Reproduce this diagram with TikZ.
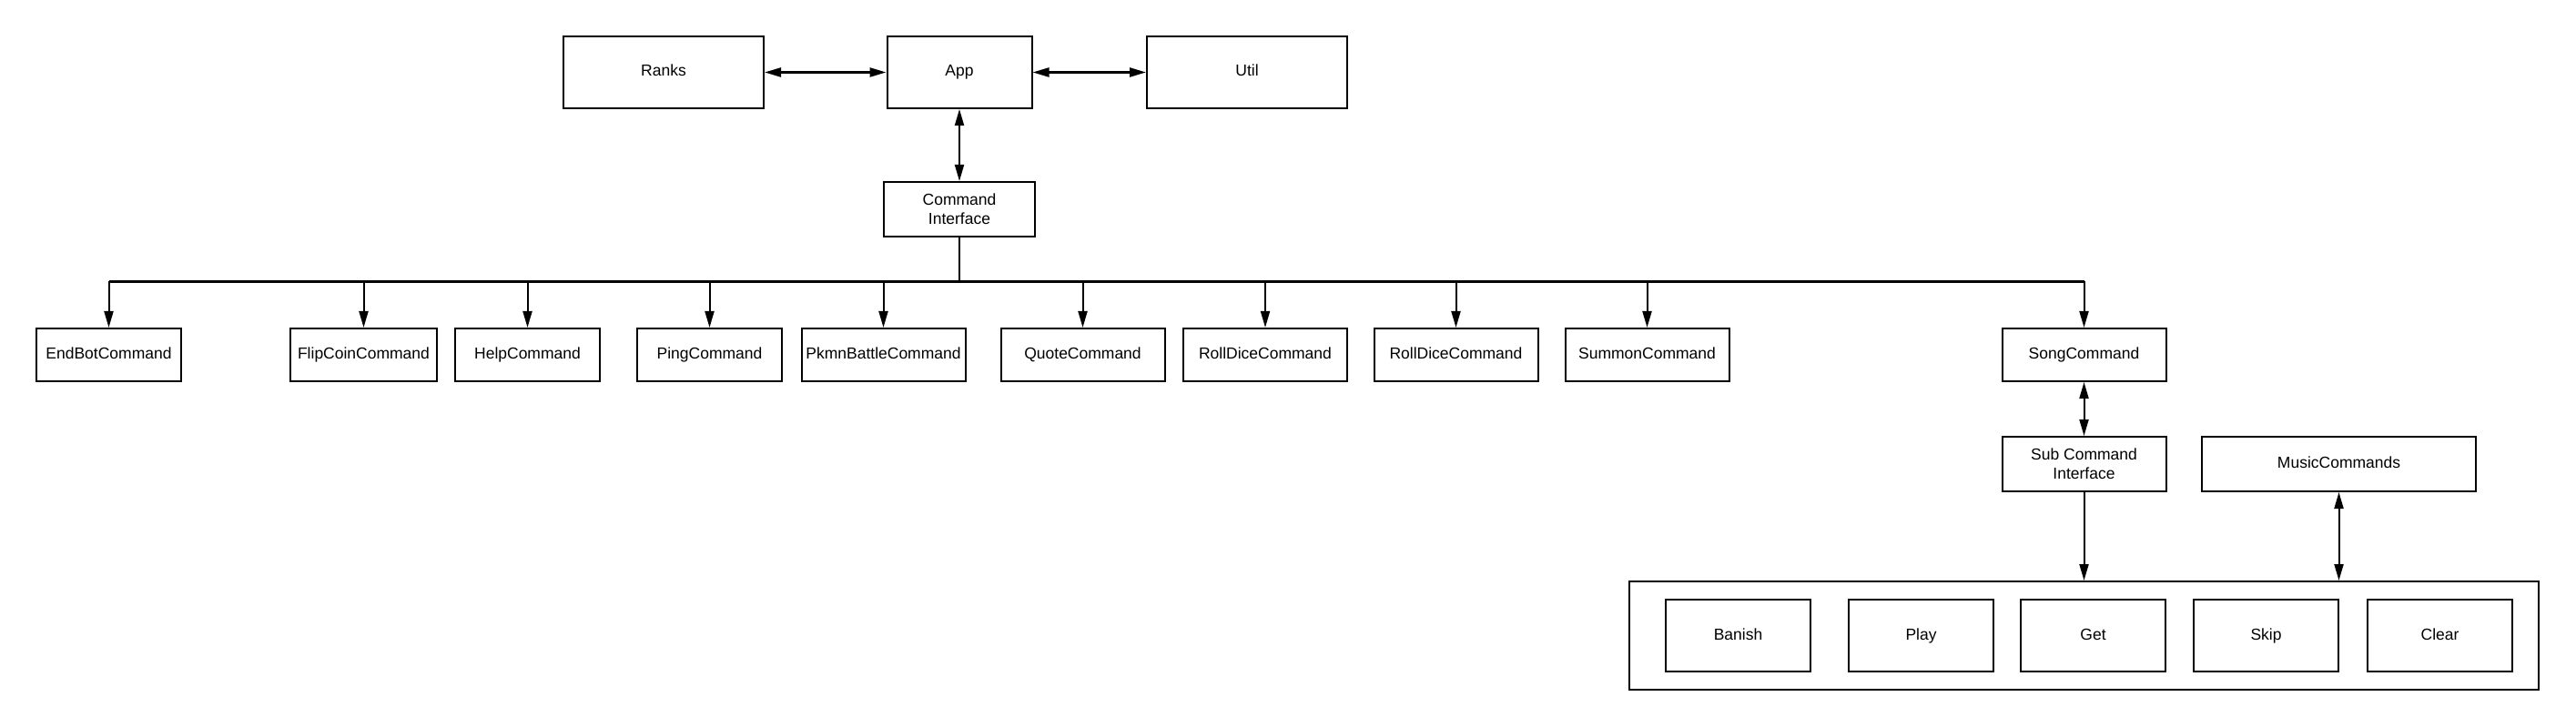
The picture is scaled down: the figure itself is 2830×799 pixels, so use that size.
\documentclass[tikz,border=0pt]{standalone}
\usepackage{fontspec}
\setmainfont{Liberation Sans}
\usetikzlibrary{arrows.meta}

\tikzset{
  box/.style={draw, line width=2pt, inner sep=2pt, align=center,
    font=\fontsize{17.5}{21}\selectfont, text height=12.5pt, text depth=3.5pt,
    minimum width=159pt, minimum height=58pt},
  widebox/.style={box, minimum width=180pt},
  link/.style={line width=2pt},
  biglink/.style={line width=2.5pt}
}

\begin{document}
\begin{tikzpicture}[x=1pt, y=-1pt, >={Triangle[length=18pt,width=10pt]}]
    \useasboundingbox (0,0) rectangle (2830,799); % page
    % top row
    \node[box, minimum width=220pt, minimum height=79pt] (ranks) at (729,79.5) {Ranks};
    \node[box, minimum height=79pt] (app) at (1054,79.5) {App};
    \node[box, minimum width=220pt, minimum height=79pt] (util) at (1370,79.5) {Util};
    \node[box, minimum width=166pt, minimum height=60pt, text height=, text depth=] (cmdif) at (1054,230) {Command\\Interface};
    \draw[biglink, <->] (ranks) -- (app);
    \draw[biglink, <->] (app) -- (util);
    \draw[link, <->] (app) -- (cmdif);
    % commands
    \node[box] (endbot) at (119.5,390) {EndBotCommand};
    \node[box, minimum width=161pt] (flipcoin) at (399.5,390) {FlipCoinCommand};
    \node[box] (help) at (579.5,390) {HelpCommand};
    \node[box] (ping) at (779.5,390) {PingCommand};
    \node[widebox] (pkmn) at (970.5,390) {PkmnBattleCommand};
    \node[widebox] (quote) at (1189.5,390) {QuoteCommand};
    \node[widebox] (rolldice) at (1390,390) {RollDiceCommand};
    \node[widebox] (rolldiceb) at (1599.5,390) {RollDiceCommand};
    \node[widebox] (summon) at (1809.5,390) {SummonCommand};
    \node[widebox] (song) at (2289.5,390) {SongCommand};
    \coordinate (bus) at (1054,309.5);
    \draw[link] (cmdif.south) -- (bus); % stem
    \draw[biglink] (endbot.north |- bus) -- (song.north |- bus); % bus
    \foreach \n in {endbot,flipcoin,help,ping,pkmn,quote,rolldice,rolldiceb,summon,song}
        \draw[link, ->] (\n.north |- bus) -- (\n.north); % drops
    % song sub commands
    \node[widebox, minimum height=60pt, text height=, text depth=] (subcmd) at (2289.5,510) {Sub Command\\Interface};
    \node[box, minimum width=301pt, minimum height=60pt] (music) at (2569.5,510) {MusicCommands};
    \node[draw, line width=2pt, minimum width=999pt, minimum height=119pt] (musicbox) at (2289.5,698.5) {};
    \foreach \n/\x/\t in {banish/1909.5/Banish, play/2110.5/Play, get/2299.5/Get, skip/2489.5/Skip, clear/2680.5/Clear}
        \node[box, minimum height=79pt] (\n) at (\x,698.5) {\t};
    \draw[link, <->] (song) -- (subcmd);
    \draw[link, ->] (subcmd.south) -- (subcmd.south |- musicbox.north);
    \draw[link, <->] (music.south) -- (music.south |- musicbox.north);
\end{tikzpicture}
\end{document}
